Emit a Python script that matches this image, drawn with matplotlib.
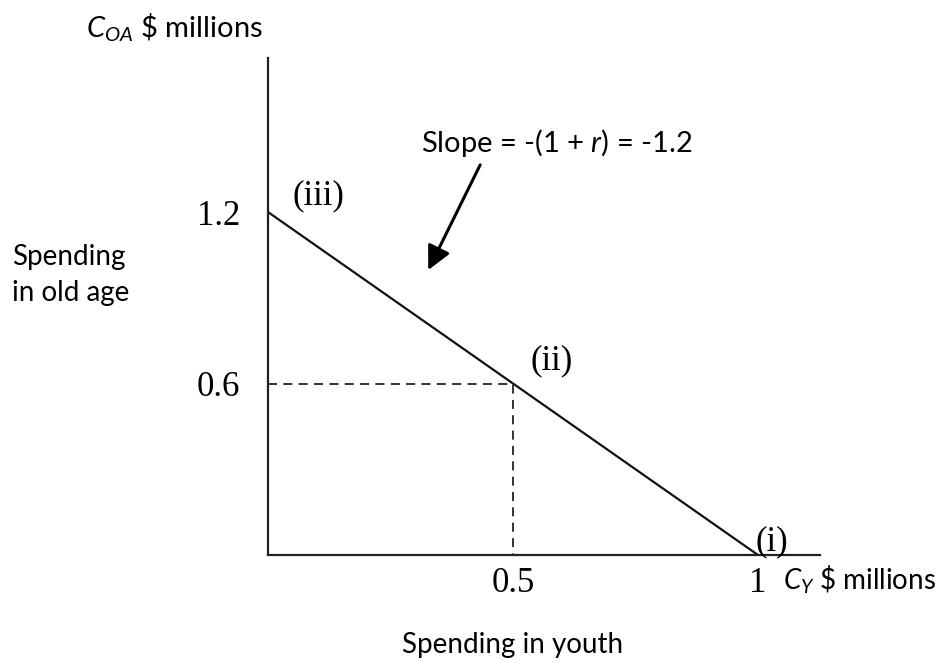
import matplotlib
matplotlib.use("Agg")
import matplotlib.pyplot as plt

# Data
budget_x = [0.0, 1.0]          # spending in youth ($ millions)
budget_y = [1.2, 0.0]          # spending in old age ($ millions)
point_ii = (0.5, 0.6)
x_ticks = [0.5, 1.0]
x_tick_labels = ["0.5", "1"]
y_ticks = [0.6, 1.2]
y_tick_labels = ["0.6", "1.2"]
point_labels = ["(i)", "(ii)", "(iii)"]

plt.rcParams['mathtext.fontset'] = 'custom'
plt.rcParams['mathtext.it'] = 'Lato:italic'
plt.rcParams['mathtext.rm'] = 'Lato'

W, H = 949, 662
fig = plt.figure(figsize=(W / 100, H / 100), dpi=100)
ox, oy = 268, 555
xend, ytop = 820, 58
ax = fig.add_axes([ox / W, (H - oy) / H, (xend - ox) / W, (oy - ytop) / H])

xu = 490.0   # px per unit x
yu = 285.8   # px per unit y
ax.set_xlim(0, (xend - ox) / xu)
ax.set_ylim(0, (oy - ytop) / yu)

for s in ['top', 'right']:
    ax.spines[s].set_visible(False)
for s in ['left', 'bottom']:
    ax.spines[s].set_linewidth(1.6)
    ax.spines[s].set_color('#222222')

ax.plot(budget_x, budget_y, color='#111111', lw=1.6, solid_capstyle='butt')
ax.plot([0, point_ii[0], point_ii[0]], [point_ii[1], point_ii[1], 0],
        color='#222222', lw=1.3, ls=(0, (5, 3.5)))

serif = 'Liberation Serif'
sans = 'Lato'
ax.set_xticks(x_ticks)
ax.set_xticklabels(x_tick_labels, family=serif, fontsize=25)
ax.set_yticks(y_ticks)
ax.set_yticklabels(y_tick_labels, family=serif, fontsize=25)
ax.tick_params(axis='both', length=0)
ax.tick_params(axis='x', pad=9)
ax.tick_params(axis='y', pad=20)

# point labels
ax.text(0.995, -0.01, point_labels[0], family=serif, fontsize=25, ha='left', va='bottom')
ax.text(point_ii[0] + 0.035, point_ii[1] + 0.02, point_labels[1], family=serif, fontsize=25,
        ha='left', va='bottom')
ax.text(0.05, 1.2 + 0.0, point_labels[2], family=serif, fontsize=25, ha='left', va='bottom')

# slope annotation
ax.text(0.312, 1.44, "Slope = -(1 + $r$) = -1.2", family=sans, fontsize=21,
        ha='left', va='center')
ax.annotate('', xy=(0.327, 0.997), xytext=(0.433, 1.365),
            arrowprops=dict(arrowstyle='-|>,head_length=0.6,head_width=0.3',
                            color='black', lw=2.2, mutation_scale=24,
                            shrinkA=0, shrinkB=0))

# axis labels
fig.text(86 / W, 1 - 28 / H, r"$C_{OA}$ \$ millions", family=sans, fontsize=21,
         ha='left', va='center')
fig.text(783 / W, 1 - 580 / H, r"$C_{Y}$ \$ millions", family=sans, fontsize=20,
         ha='left', va='center')
fig.text(12 / W, 1 - 275 / H, "Spending\nin old age", family=sans, fontsize=20,
         ha='left', va='center', linespacing=1.45)
fig.text(513 / W, 1 - 645 / H, "Spending in youth", family=sans, fontsize=20,
         ha='center', va='center')

fig.savefig("out.png", dpi=100)
